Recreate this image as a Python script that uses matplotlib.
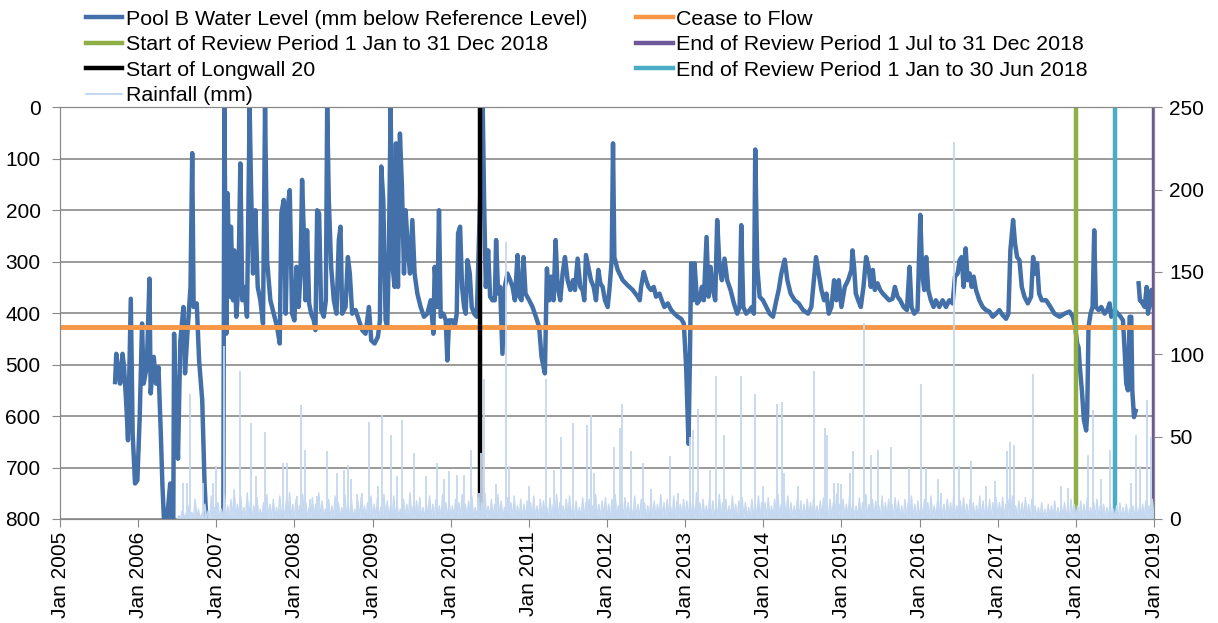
import matplotlib
matplotlib.use("Agg")
import matplotlib.pyplot as plt
import numpy as np
from matplotlib.lines import Line2D

plt.rcParams["font.family"] = ["Liberation Sans", "DejaVu Sans"]

nan = float("nan")

# Pool B water level (mm below reference level) (decimal years)
level_year = [
    2005.705, 2005.72, 2005.75, 2005.77, 2005.80, 2005.82, 2005.85, 2005.87, 2005.906, 2005.93,
    2005.96, 2005.99, 2006.02, 2006.05, 2006.07, 2006.11, 2006.145, 2006.16, 2006.20, 2006.23,
    2006.26, 2006.29, 2006.31, 2006.33, 2006.37, 2006.41, 2006.43, 2006.45, 2006.46, 2006.48,
    2006.51, 2006.54, 2006.58, 2006.60, 2006.63, 2006.67, 2006.692, 2006.71, 2006.75, 2006.78,
    2006.82, 2006.85, 2006.872, 2006.98, 2007.09, 2007.103, 2007.128, 2007.145, 2007.171, 2007.188,
    2007.214, 2007.231, 2007.256, 2007.282, 2007.308, 2007.333, 2007.359, 2007.393, 2007.427, 2007.444,
    2007.47, 2007.50, 2007.53, 2007.564, 2007.598, 2007.624, 2007.65, 2007.692, 2007.735, 2007.778,
    2007.812, 2007.833, 2007.863, 2007.889, 2007.915, 2007.94, 2007.97, 2008.00, 2008.026, 2008.055,
    2008.077, 2008.098, 2008.12, 2008.141, 2008.162, 2008.188, 2008.214, 2008.248, 2008.269, 2008.291,
    2008.316, 2008.342, 2008.376, 2008.402, 2008.419, 2008.44, 2008.47, 2008.504, 2008.538, 2008.568,
    2008.59, 2008.611, 2008.654, 2008.684, 2008.709, 2008.739, 2008.782, 2008.825, 2008.867, 2008.91,
    2008.953, 2008.983, 2009.026, 2009.068, 2009.094, 2009.111, 2009.137, 2009.167, 2009.188, 2009.209,
    2009.231, 2009.256, 2009.282, 2009.299, 2009.325, 2009.35, 2009.376, 2009.402, 2009.423, 2009.453,
    2009.479, 2009.509, 2009.538, 2009.573, 2009.615, 2009.658, 2009.701, 2009.744, 2009.778, 2009.795,
    2009.829, 2009.85, 2009.872, 2009.906, 2009.936, 2009.957, 2009.979, 2010.021, 2010.051, 2010.077,
    2010.094, 2010.12, 2010.145, 2010.171, 2010.192, 2010.214, 2010.244, 2010.269, 2010.299, 2010.333,
    2010.41, 2010.427, 2010.449, 2010.479, 2010.504, 2010.534, 2010.564, 2010.581, 2010.607, 2010.632,
    2010.662, 2010.692, 2010.726, 2010.761, 2010.791, 2010.821, 2010.855, 2010.88, 2010.906, 2010.932,
    2010.957, 2011.004, 2011.047, 2011.09, 2011.132, 2011.162, 2011.205, 2011.231, 2011.261, 2011.282,
    2011.316, 2011.342, 2011.368, 2011.402, 2011.432, 2011.462, 2011.496, 2011.53, 2011.564, 2011.59,
    2011.624, 2011.658, 2011.688, 2011.709, 2011.731, 2011.761, 2011.795, 2011.829, 2011.859, 2011.889,
    2011.915, 2011.944, 2011.974, 2012.009, 2012.034, 2012.06, 2012.077, 2012.094, 2012.137, 2012.201,
    2012.265, 2012.329, 2012.393, 2012.419, 2012.436, 2012.47, 2012.50, 2012.53, 2012.564, 2012.598,
    2012.628, 2012.671, 2012.701, 2012.735, 2012.778, 2012.821, 2012.863, 2012.906, 2012.949, 2012.983,
    2013.013, 2013.043, 2013.06, 2013.077, 2013.103, 2013.12, 2013.154, 2013.184, 2013.214, 2013.239,
    2013.274, 2013.299, 2013.325, 2013.355, 2013.385, 2013.41, 2013.44, 2013.47, 2013.504, 2013.538,
    2013.581, 2013.624, 2013.667, 2013.697, 2013.718, 2013.744, 2013.782, 2013.825, 2013.855, 2013.88,
    2013.897, 2013.923, 2013.953, 2013.996, 2014.038, 2014.081, 2014.124, 2014.167, 2014.197, 2014.231,
    2014.274, 2014.308, 2014.35, 2014.402, 2014.453, 2014.509, 2014.573, 2014.615, 2014.675, 2014.709,
    2014.744, 2014.778, 2014.808, 2014.838, 2014.872, 2014.906, 2014.936, 2014.966, 2015.00, 2015.043,
    2015.085, 2015.128, 2015.141, 2015.162, 2015.184, 2015.214, 2015.248, 2015.282, 2015.316, 2015.346,
    2015.376, 2015.402, 2015.427, 2015.462, 2015.496, 2015.53, 2015.568, 2015.611, 2015.654, 2015.684,
    2015.718, 2015.752, 2015.795, 2015.838, 2015.872, 2015.897, 2015.932, 2015.974, 2016.009, 2016.034,
    2016.06, 2016.085, 2016.111, 2016.145, 2016.179, 2016.209, 2016.252, 2016.295, 2016.338, 2016.38,
    2016.423, 2016.453, 2016.487, 2016.513, 2016.538, 2016.564, 2016.59, 2016.615, 2016.641, 2016.667,
    2016.692, 2016.722, 2016.765, 2016.808, 2016.85, 2016.893, 2016.936, 2016.979, 2017.021, 2017.064,
    2017.107, 2017.137, 2017.162, 2017.197, 2017.222, 2017.248, 2017.278, 2017.308, 2017.342, 2017.385,
    2017.427, 2017.453, 2017.479, 2017.504, 2017.53, 2017.564, 2017.62, 2017.675, 2017.726, 2017.791,
    2017.855, 2017.919, 2017.962, 2017.991, 2018.017, 2018.034, 2018.051, 2018.077, 2018.103, 2018.132,
    2018.145, 2018.162, 2018.188, 2018.214, 2018.235, 2018.256, 2018.291, 2018.325, 2018.368, 2018.402,
    2018.432, 2018.453, 2018.496, 2018.538, 2018.573, 2018.603, 2018.624, 2018.645, 2018.667, 2018.688,
    2018.709, 2018.722, 2018.744, 2018.765, 2018.785, 2018.803, 2018.82, 2018.829, 2018.88, 2018.906,
    2018.923, 2018.966, 2018.995,
]
level_mm = [
    534, 479, 517, 537, 479, 505, 582, 647, 372, 634,
    731, 725, 602, 420, 537, 505, 333, 556, 485, 537,
    505, 634, 731, 800, 800, 731, 800, 800, 440, 569,
    683, 453, 388, 517, 440, 349, 89, 388, 381, 492,
    569, 731, 800, nan, 800, 0, 440, 167, 368, 232,
    375, 278, 407, 349, 109, 375, 349, 407, 0, 148,
    323, 200, 349, 375, 420, 0, 297, 375, 401, 427,
    459, 206, 180, 401, 193, 161, 401, 414, 310, 388,
    323, 141, 245, 375, 239, 381, 401, 414, 433, 200,
    206, 394, 407, 375, 0, 180, 310, 375, 401, 258,
    232, 401, 388, 291, 323, 401, 394, 414, 433, 440,
    388, 453, 459, 446, 414, 115, 180, 414, 427, 278,
    0, 310, 349, 70, 349, 51, 154, 323, 200, 278,
    323, 219, 323, 362, 388, 407, 401, 375, 440, 310,
    388, 200, 407, 401, 414, 492, 414, 414, 427, 401,
    245, 232, 349, 388, 401, 297, 323, 388, 401, 407,
    0, 180, 349, 278, 368, 375, 375, 258, 362, 349,
    479, 349, 323, 336, 349, 375, 287, 368, 375, 291,
    362, 375, 388, 407, 427, 485, 517, 313, 375, 329,
    375, 258, 349, 375, 323, 291, 336, 355, 336, 355,
    294, 349, 355, 375, 287, 310, 336, 349, 375, 316,
    342, 349, 375, 388, 349, 297, 70, 291, 316, 336,
    346, 355, 368, 375, 349, 320, 336, 349, 355, 349,
    368, 362, 375, 388, 381, 394, 401, 407, 411, 420,
    505, 654, 498, 303, 375, 303, 381, 375, 349, 375,
    252, 368, 310, 355, 375, 219, 310, 336, 294, 336,
    355, 381, 401, 388, 229, 388, 401, 394, 388, 401,
    82, 310, 368, 375, 388, 401, 407, 375, 355, 323,
    296, 336, 362, 375, 381, 394, 401, 388, 291, 323,
    355, 375, 362, 401, 388, 336, 375, 336, 388, 349,
    336, 316, 278, 310, 362, 375, 388, 349, 291, 310,
    349, 316, 355, 342, 355, 362, 368, 375, 372, 349,
    368, 375, 388, 394, 310, 388, 401, 394, 209, 323,
    355, 291, 355, 375, 388, 375, 388, 375, 388, 375,
    381, 329, 323, 297, 291, 349, 274, 336, 323, 349,
    329, 355, 375, 388, 394, 397, 407, 401, 394, 404,
    411, 401, 278, 219, 265, 291, 297, 349, 368, 381,
    368, 291, 323, 303, 362, 375, 375, 388, 401, 407,
    401, 397, 407, 427, 459, 466, 505, 550, 608, 628,
    595, 427, 401, 388, 239, 388, 394, 388, 401, 394,
    381, 407, 394, 401, 407, 414, 472, 537, 550, 407,
    407, 550, 602, 590, nan, 342, 375, 375, 388, 349,
    401, 355, 388,
]

# Rainfall (mm), the larger daily falls
rain_year = [
    2006.58, 2006.62, 2006.67, 2006.83, 2006.96, 2006.99, 2007.01, 2007.10, 2007.30, 2007.44,
    2007.51, 2007.62, 2007.85, 2007.90, 2008.03, 2008.09, 2008.14, 2008.20, 2008.29, 2008.42,
    2008.55, 2008.63, 2008.68, 2008.72, 2008.80, 2008.87, 2008.95, 2009.07, 2009.12, 2009.24,
    2009.31, 2009.38, 2009.53, 2009.68, 2009.82, 2009.91, 2009.98, 2010.08, 2010.17, 2010.26,
    2010.36, 2010.39, 2010.43, 2010.58, 2010.705, 2010.75, 2011.00, 2011.22, 2011.32, 2011.41,
    2011.56, 2011.74, 2011.79, 2011.84, 2012.09, 2012.16, 2012.19, 2012.31, 2012.46, 2012.56,
    2012.80, 2012.91, 2013.06, 2013.10, 2013.16, 2013.32, 2013.40, 2013.50, 2013.72, 2013.89,
    2014.00, 2014.17, 2014.24, 2014.27, 2014.44, 2014.55, 2014.65, 2014.79, 2014.81, 2014.91,
    2014.96, 2015.00, 2015.11, 2015.15, 2015.29, 2015.38, 2015.47, 2015.64, 2015.87, 2016.02,
    2016.08, 2016.23, 2016.27, 2016.44, 2016.51, 2016.66, 2016.85, 2016.96, 2017.12, 2017.16,
    2017.21, 2017.45, 2017.81, 2017.90, 2018.16, 2018.22, 2018.32, 2018.44, 2018.70, 2018.77,
    2018.82, 2018.91, 2018.96,
]
rain_mm = [
    22, 22, 76, 22, 22, 32, 10, 105, 90, 58,
    26, 53, 34, 34, 14, 69, 42, 12, 14, 41,
    28, 30, 33, 24, 15, 16, 59, 20, 63, 51,
    26, 60, 40, 26, 34, 24, 29, 27, 27, 42,
    16, 40, 85, 21, 168, 32, 20, 85, 30, 50,
    58, 57, 63, 28, 44, 55, 70, 41, 34, 18,
    38, 16, 50, 54, 67, 30, 87, 51, 87, 76,
    20, 70, 71, 28, 20, 3, 90, 55, 51, 22,
    22, 21, 28, 41, 119, 39, 42, 44, 31, 82,
    31, 24, 16, 229, 32, 35, 20, 23, 41, 47,
    45, 88, 20, 19, 39, 66, 24, 42, 22, 51,
    32, 72, 50,
]

# Background daily rainfall, two readings per month from July 2006
rain_bg_start = 2006.5
rain_bg_mm = [
    2, 5, 3, 8, 4, 12, 6, 3, 9, 5, 14, 7,
    10, 6, 15, 8, 12, 18, 9, 14, 7, 16, 11, 8, 13, 6, 10, 15, 9, 12, 7, 14, 8, 11, 16, 9,
    12, 8, 15, 10, 7, 13, 9, 16, 11, 6, 12, 8, 14, 10, 7, 15, 9, 12, 6, 11, 13, 8, 10, 14,
    9, 13, 7, 15, 11, 8, 14, 10, 6, 12, 9, 16, 8, 11, 13, 7, 10, 14, 9, 12, 8, 15, 10, 11,
    8, 12, 10, 15, 9, 11, 14, 7, 13, 10, 16, 8, 12, 9, 15, 11, 7, 13, 10, 14, 8, 12, 9, 11,
    10, 14, 8, 12, 11, 7, 13, 9, 15, 10, 8, 12, 14, 9, 11, 7, 13, 10, 12, 8, 15, 9, 11, 13,
    9, 12, 15, 8, 11, 13, 10, 7, 14, 9, 12, 10, 8, 13, 11, 9, 15, 10, 12, 8, 14, 11, 9, 12,
    11, 14, 9, 16, 10, 12, 8, 13, 11, 9, 15, 10, 12, 8, 14, 9, 11, 13, 10, 7, 12, 9, 14, 10,
    10, 13, 8, 12, 15, 9, 11, 14, 10, 8, 13, 11, 9, 12, 10, 14, 8, 11, 13, 9, 12, 10, 15, 9,
    12, 9, 14, 11, 8, 13, 10, 15, 9, 12, 11, 8, 14, 10, 12, 9, 13, 11, 8, 12, 10, 14, 9, 11,
    9, 12, 10, 14, 8, 11, 13, 9, 12, 10, 15, 8, 11, 13, 9, 12, 10, 8, 14, 11, 9, 12, 10, 13,
    10, 13, 9, 12, 14, 8, 11, 10, 13, 9, 12, 8, 7, 10, 6, 9, 8, 11, 7, 9, 10, 8, 12, 9,
    8, 11, 9, 13, 7, 10, 12, 8, 9, 7, 11, 6, 8, 10, 7, 9, 6, 8, 10, 7, 9, 11, 8, 12,
]

cease_to_flow = 426
longwall_start = 2010.376
review_start_2018 = 2018.0
review_end_jun = 2018.5
review_end_dec = 2018.995

BLUE = "#4370a8"
ORANGE = "#f79646"
GREEN = "#8fae45"
PURPLE = "#6f5897"
BLACK = "#000000"
CYAN = "#4bacc6"
RAIN = "#c5d8ef"
GREY = "#898989"

fig = plt.figure(figsize=(12.18, 6.23), dpi=100)
ax = fig.add_axes([60 / 1218, 104 / 623, 1094 / 1218, 411.7 / 623])
ax.set_xlim(2005, 2019)
ax.set_ylim(800, 0)
ax.set_yticks(range(0, 801, 100))
ax.yaxis.grid(True, color=GREY, lw=1.2)
ax.set_axisbelow(True)

ax.plot(level_year, level_mm, color=BLUE, lw=3.2, solid_joinstyle="round", zorder=3)
ax.axhline(cease_to_flow, color=ORANGE, lw=3.5, zorder=4)
for xv, col in [(longwall_start, BLACK), (review_start_2018, GREEN),
                (review_end_jun, CYAN), (review_end_dec, PURPLE)]:
    ax.plot([xv, xv], [0, 792], color=col, lw=3.2, zorder=5, solid_capstyle="butt")

years = list(range(2005, 2020))
ax.set_xticks(years)
ax.set_xticklabels([f"Jan {y}" for y in years], rotation=90)

ax2 = ax.twinx()
ax2.set_ylim(0, 250)
ax2.set_yticks(range(0, 251, 50))

# background rainfall as a dense zigzag fill
bg = np.array(rain_bg_mm, dtype=float)
bx = rain_bg_start + (np.arange(len(bg)) + 0.5) / 24
half = 1 / 48
zx = np.column_stack([bx - half, bx, bx + half]).ravel()
zy = np.column_stack([np.zeros_like(bg), bg, np.zeros_like(bg)]).ravel()
ax2.fill_between(zx, 0, zy, color=RAIN, lw=0)
ax2.plot(zx, zy, color=RAIN, lw=1.0)
ax2.vlines(rain_year, 0, rain_mm, color=RAIN, lw=1.3)

for a in (ax, ax2):
    for s in a.spines.values():
        s.set_color(GREY)
    a.tick_params(direction="out", length=6, color=GREY, labelsize=15, labelcolor="#000000")
ax.tick_params(axis="y", pad=8)
ax.tick_params(axis="x", pad=3)
ax2.tick_params(axis="y", pad=5)

handles = [
    Line2D([], [], color=BLUE, lw=3.2),
    Line2D([], [], color=GREEN, lw=3.2),
    Line2D([], [], color=BLACK, lw=3.2),
    Line2D([], [], color=RAIN, lw=1.5),
    Line2D([], [], color=ORANGE, lw=3.2),
    Line2D([], [], color=PURPLE, lw=3.2),
    Line2D([], [], color=CYAN, lw=3.2),
]
labels = [
    "Pool B Water Level (mm below Reference Level)",
    "Start of Review Period 1 Jan to 31 Dec 2018",
    "Start of Longwall 20",
    "Rainfall (mm)",
    "Cease to Flow",
    "End of Review Period 1 Jul to 31 Dec 2018",
    "End of Review Period 1 Jan to 30 Jun 2018",
]
fig.legend(handles, labels, loc="upper left", bbox_to_anchor=(86 / 1218, 0.984),
           ncol=2, frameon=False, fontsize=15.4, borderpad=0, borderaxespad=0,
           handlelength=1.7, handletextpad=0.15, labelspacing=0.3, columnspacing=2.3)

fig.savefig("out.png", dpi=100)
